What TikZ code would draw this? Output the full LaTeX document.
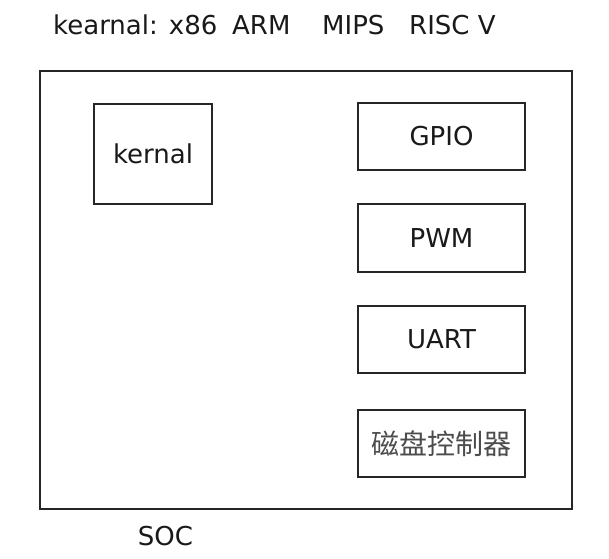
\documentclass[tikz,border=0pt]{standalone}
\usepackage{fontspec}
\setmainfont{DejaVu Sans}
\newfontfamily\cjk{Noto Sans CJK SC}
\begin{document}
\begin{tikzpicture}[x=1pt,y=-1pt,
  lbl/.style={inner sep=0pt,font=\fontsize{26}{30}\selectfont,text=black!90},
  box/.style={draw=black!85,line width=2pt,fill=white,inner sep=0pt},
  soc/.style={box},
  periph/.style={box,minimum width=167pt,minimum height=67pt,font=\fontsize{26}{30}\selectfont,text=black!90}]
\fill[white] (0,0) rectangle (609,558);
\useasboundingbox (0,0) rectangle (609,558);
\node[lbl,anchor=base west] (t1) at (53,34) {kearnal: x86};
\node[lbl,anchor=base west] (t2) at (232,34) {ARM};
\node[lbl,anchor=base west] (t3) at (322,34) {MIPS};
\node[lbl,anchor=base west] (t4) at (409,34) {RISC V};
\node[soc,minimum width=532pt,minimum height=438pt] (chip) at (306,290) {};
\node[box,minimum width=118pt,minimum height=100pt,font=\fontsize{26}{30}\selectfont,text=black!90] (kernal) at (153,154) {kernal};
\node[periph] (gpio) at (441.5,136.5) {GPIO};
\node[periph,minimum height=68pt] (pwm) at (441.5,238) {PWM};
\node[periph] (uart) at (441.5,339.5) {UART};
\node[periph,font=\cjk\fontsize{28}{32}\selectfont,text=black!70] (disk) at (441.5,443.5) {磁盘控制器};
\node[lbl,anchor=base] (soclbl) at (165.5,545) {SOC};
\end{tikzpicture}
\end{document}
